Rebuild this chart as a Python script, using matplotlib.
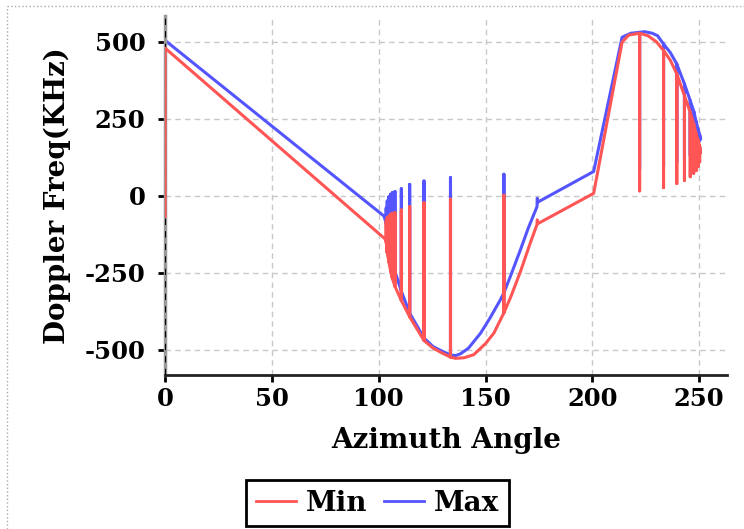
import matplotlib
matplotlib.use('Agg')
import matplotlib.pyplot as plt
from matplotlib.lines import Line2D

# values (spikes are repeated x values)
min_x = [0, 0, 103.3,
         103.5, 103.5, 103.5, 104.0, 104.0, 104.0, 104.8, 104.8, 104.8,
         105.6, 105.6, 105.6, 106.4, 106.4, 106.4, 107.6, 107.6, 107.6,
         110.6, 110.6, 110.6, 114.5, 114.5, 114.5, 121.2, 121.2, 121.2,
         125.5, 129.8, 133.6, 133.6, 133.6, 136.0, 140.0, 144.5, 150.0, 153.9,
         158.6, 158.6, 158.6, 162.0, 166.4, 171.0, 174.1, 174.2, 174.6,
         200.6, 213.9, 217.0, 222.1, 222.1, 222.1, 226.0, 230.0,
         233.3, 233.3, 233.3, 236.5, 239.5, 239.5, 239.5, 243.1, 243.1, 243.1,
         245.8, 245.8, 245.8, 247.4, 247.4, 247.4, 248.6, 248.6, 248.6,
         249.5, 249.5, 249.5, 250.2, 250.2, 250.2, 250.6]
min_y = [-67, 480, -142,
         -150, -82, -150, -185, -71, -185, -215, -66, -215,
         -245, -60, -245, -268, -57, -268, -294, -55, -294,
         -340, -46, -340, -393, -35, -393, -470, -22, -470,
         -495, -511, -524, -11, -524, -528, -526, -516, -480, -446,
         -380, 2, -380, -325, -245, -152, -93, -78, -90,
         8, 499, 522, 528, 16, 528, 520, 500,
         472, 27, 472, 440, 396, 40, 396, 325, 50, 325,
         271, 62, 271, 233, 73, 233, 200, 82, 200,
         180, 95, 180, 162, 110, 162, 140]

max_x = [0, 102.5,
         103.5, 103.5, 103.5, 104.0, 104.0, 104.0, 104.8, 104.8, 104.8,
         105.6, 105.6, 105.6, 106.4, 106.4, 106.4, 107.6, 107.6, 107.6,
         110.6, 110.6, 110.6, 114.5, 114.5, 114.5, 121.2, 121.2, 121.2,
         125.5, 129.8, 133.6, 133.6, 133.6, 136.0, 138.3, 142.0, 147.7, 152.0, 157.0,
         158.6, 158.6, 158.6, 162.0, 166.4, 170.0, 174.1, 174.2, 174.6,
         200.6, 213.9, 218.0, 222.1, 222.1, 222.1, 224.5, 228.0, 230.5,
         233.3, 233.3, 233.3, 236.5, 239.5, 239.5, 239.5, 243.1, 243.1, 243.1,
         245.8, 245.8, 245.8, 247.4, 247.4, 247.4, 248.6, 248.6, 248.6,
         249.5, 249.5, 249.5, 250.2, 250.2, 250.2, 250.6]
max_y = [505, -66,
         -90, -40, -90, -130, -17, -130, -170, -3, -170,
         -200, 5, -200, -222, 10, -222, -245, 14, -245,
         -310, 23, -310, -381, 37, -381, -462, 48, -462,
         -490, -505, -517, 59, -517, -519, -513, -495, -446, -398, -337,
         -315, 70, -315, -255, -174, -105, -35, -8, -20,
         79, 515, 528, 531, 86, 531, 533, 528, 520,
         493, 97, 493, 465, 428, 110, 428, 363, 120, 363,
         309, 132, 309, 275, 143, 275, 240, 152, 240,
         215, 165, 215, 198, 180, 198, 185]

x_ticks = [0, 50, 100, 150, 200, 250]
y_ticks = [-500, -250, 0, 250, 500]

RED = '#ff5555'
BLUE = '#5555ff'

plt.rcParams['font.family'] = ['DejaVu Serif']
plt.rcParams['font.weight'] = 'bold'
plt.rcParams['axes.unicode_minus'] = False

fig = plt.figure(figsize=(7.44, 5.29), dpi=100)
ax = fig.add_axes([165 / 744, 1 - 375 / 529, (727 - 165) / 744, (375 - 16) / 529])

ax.grid(True, color='#c8c8c8', linestyle=(0, (4, 3)), linewidth=1)
ax.set_axisbelow(True)

ax.plot(max_x, max_y, color=BLUE, linewidth=2.2, zorder=2)
ax.plot(min_x, min_y, color=RED, linewidth=2.2, zorder=3)

ax.set_xlim(0, 263)
ax.set_ylim(-582, 584)
ax.set_xticks(x_ticks)
ax.set_yticks(y_ticks)
ax.tick_params(axis='both', labelsize=17.5, width=2, length=5, color='black')
ax.tick_params(axis='y', pad=9)
ax.tick_params(axis='x', pad=4)
for lab in ax.get_xticklabels() + ax.get_yticklabels():
    lab.set_fontweight('bold')

ax.spines['top'].set_visible(False)
ax.spines['right'].set_visible(False)
ax.spines['left'].set_color('#999999')
ax.spines['left'].set_linewidth(2.5)
ax.spines['bottom'].set_color('#222222')
ax.spines['bottom'].set_linewidth(2)
# dashed black line drawn over the grey left spine
ax.axvline(0, color='black', linestyle=(0, (3, 3)), linewidth=1.5, zorder=2.6)

ax.set_xlabel('Azimuth Angle', fontsize=20, fontweight='bold', labelpad=11)
ax.set_ylabel('Doppler Freq(KHz)', fontsize=20, fontweight='bold', labelpad=10)

handles = [Line2D([], [], color=RED, linewidth=2),
           Line2D([], [], color=BLUE, linewidth=2)]
leg = fig.legend(handles, ['Min', 'Max'], loc='upper center',
                 bbox_to_anchor=(377.5 / 744, 1 - 480 / 529), ncol=2,
                 fontsize=20, frameon=True, fancybox=False, framealpha=1,
                 handlelength=1.44, handletextpad=0.36, columnspacing=0.58,
                 borderpad=0.35, borderaxespad=0)
leg.get_frame().set_edgecolor('black')
leg.get_frame().set_linewidth(2)
for t in leg.get_texts():
    t.set_fontweight('bold')

# dotted outline around the figure
fig.add_artist(Line2D([7 / 744, 1], [1 - 6 / 529, 1 - 6 / 529], transform=fig.transFigure,
                      color='#aaaaaa', linestyle=':', linewidth=1))
fig.add_artist(Line2D([7 / 744, 7 / 744], [0, 1 - 6 / 529], transform=fig.transFigure,
                      color='#aaaaaa', linestyle=':', linewidth=1))

fig.savefig('out.png', dpi=100)
